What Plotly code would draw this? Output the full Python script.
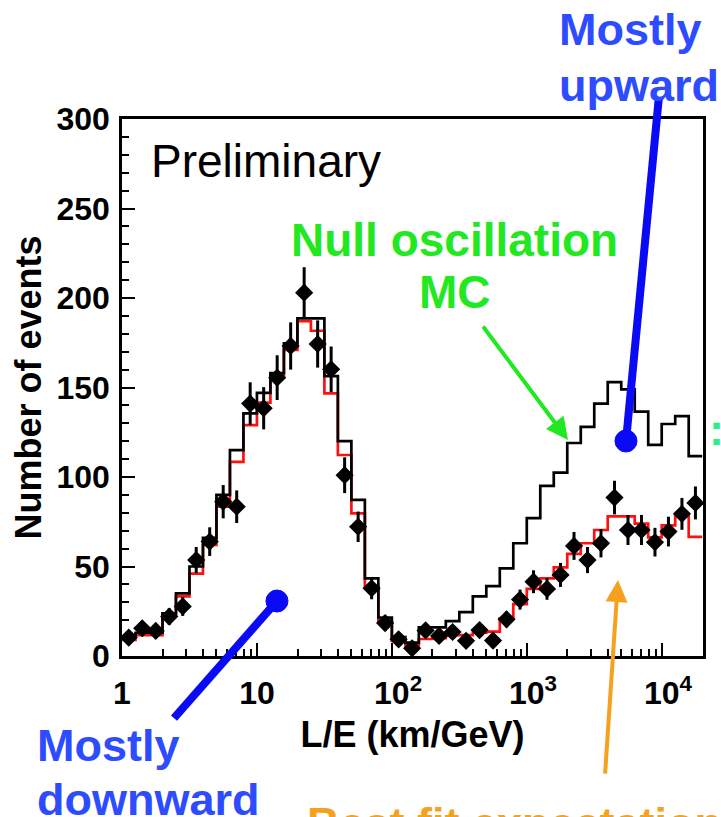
import numpy as np
import plotly.graph_objects as go

# ---- data (bins equally spaced in log10(L/E), width 0.1, from 10^0 to 10^4.3) ----
log_edges = [round(0.1 * i, 1) for i in range(44)]

null_mc = [10.8, 13, 13, 23.8, 35, 50, 66, 90, 115, 135.6,
           147, 158, 174.7, 188.6, 188.6, 156.4, 120, 87.2, 43.4, 21.5,
           10.5, 7.5, 16, 16, 19.5, 24.5, 33.3, 39, 49, 63,
           77, 95, 102.4, 119, 128, 141, 153, 149, 136.5, 118,
           129.6, 134, 111.7]

best_fit = [9, 11.7, 11.7, 23, 33.3, 46, 62, 83.4, 108.5, 129,
            141.5, 156, 171, 187, 181.7, 146.7, 112.3, 79.7, 38.7, 19.2,
            8.5, 6, 9.5, 10, 11.7, 11.7, 13, 13.6, 21, 29,
            37.5, 43.4, 49.5, 57, 63, 70.4, 78, 78, 74, 66.3,
            73, 78, 66.6]

data_counts = [10.3, 15.5, 14, 22, 27.7, 53.6, 63.9, 86.2, 83.4, 141,
               138.4, 155.5, 173.2, 203, 174.3, 160.2, 101, 72.2, 37.8, 18.4,
               9.3, 4.3, 14.3, 11.2, 13.4, 8.5, 14.5, 8.6, 20.5, 31.5,
               41.5, 37.5, 45.3, 61.5, 53.6, 63, 88.5, 70.4, 70.4, 63.6,
               69.5, 79.4, 85.5]

data_err = [3.2, 3.9, 3.7, 4.7, 5.3, 7.3, 8.0, 9.3, 9.1, 11.9,
            11.8, 12.5, 13.2, 14.2, 13.2, 12.7, 10.0, 8.5, 6.1, 4.3,
            3.0, 2.1, 3.8, 3.3, 3.7, 2.9, 3.8, 2.9, 4.5, 5.6,
            6.4, 6.1, 6.7, 7.8, 7.3, 7.9, 9.4, 8.4, 8.4, 8.0,
            8.3, 8.9, 9.2]

tick_vals = [1, 10, 100, 1000, 10000]
tick_text = ["1", "10",
             "<span style='color:rgba(0,0,0,0)'><sup>2</sup></span>10<sup>2</sup>",
             "<span style='color:rgba(0,0,0,0)'><sup>3</sup></span>10<sup>3</sup>",
             "<span style='color:rgba(0,0,0,0)'><sup>4</sup></span>10<sup>4</sup>"]

edges = [10 ** e for e in log_edges]
centers = [10 ** ((log_edges[i] + log_edges[i + 1]) / 2) for i in range(len(log_edges) - 1)]

FONT = "Liberation Sans, Arial, Helvetica, sans-serif"

fig = go.Figure()
fig.add_trace(go.Scatter(x=edges, y=best_fit + [best_fit[-1]], mode="lines",
                         line=dict(color="#ff1010", width=2.7, shape="hv"),
                         showlegend=False, hoverinfo="skip"))
fig.add_trace(go.Scatter(x=edges, y=null_mc + [null_mc[-1]], mode="lines",
                         line=dict(color="black", width=2.7, shape="hv"),
                         showlegend=False, hoverinfo="skip"))
fig.add_trace(go.Scatter(x=centers, y=data_counts, mode="markers",
                         marker=dict(symbol="diamond", size=14, color="black"),
                         error_y=dict(type="data", array=data_err, visible=True,
                                      thickness=3, width=0, color="black"),
                         showlegend=False))

BLUE_T = "#2d4cff"
BLUE_L = "#0a0af5"
GREEN = "#22e822"
ORANGE = "#f5a11d"

ann = []
def txt(text, x, y, color, size, bold=True, xanchor="left", yanchor="middle"):
    ann.append(dict(text=("<b>%s</b>" % text) if bold else text, x=x, y=y,
                    xref="paper", yref="paper", showarrow=False,
                    xanchor=xanchor, yanchor=yanchor,
                    font=dict(family=FONT, size=size, color=color)))

txt("Preliminary", 0.047, 0.922, "black", 46, bold=False)
txt("Null oscillation", 0.573, 0.775, GREEN, 46, xanchor="center")
txt("MC", 0.573, 0.678, GREEN, 46, xanchor="center")
txt("Mostly", 0.7487, 1.166, BLUE_T, 45)
txt("upward", 0.7487, 1.063, BLUE_T, 45)
txt("Mostly", -0.1497, -0.166, BLUE_T, 45)
txt("downward", -0.1497, -0.268, BLUE_T, 45)
txt("Best fit expectation", 0.315, -0.312, ORANGE, 45)
txt(":", 1.0224, 0.421, "#2eec8c", 45, xanchor="center")

# arrows
ann.append(dict(text="", x=0.7676, y=0.4022, xref="paper", yref="paper",
                showarrow=True, ax=-86, ay=-115, arrowcolor=GREEN,
                arrowwidth=4, arrowhead=2, arrowsize=1.1))
ann.append(dict(text="", x=0.8537, y=0.1415, xref="paper", yref="paper",
                showarrow=True, ax=-13, ay=195, arrowcolor=ORANGE,
                arrowwidth=4, arrowhead=2, arrowsize=1.1))

shapes = [
    dict(type="line", xref="paper", yref="paper", x0=0.924, y0=1.04, x1=0.8675, y1=0.4004,
         line=dict(color=BLUE_L, width=8)),
    dict(type="circle", xref="paper", yref="paper", x0=0.8485, x1=0.8864, y0=0.3799, y1=0.4209,
         fillcolor=BLUE_L, line=dict(color=BLUE_L, width=1)),
    dict(type="line", xref="paper", yref="paper", x0=0.2668, y0=0.1024, x1=0.0895, y1=-0.1155,
         line=dict(color=BLUE_L, width=8)),
    dict(type="circle", xref="paper", yref="paper", x0=0.2478, x1=0.2857, y0=0.0819, y1=0.1229,
         fillcolor=BLUE_L, line=dict(color=BLUE_L, width=1)),
]

fig.update_layout(
    width=721, height=817,
    margin=dict(l=122, r=18, t=119, b=161),
    paper_bgcolor="white", plot_bgcolor="white",
    annotations=ann, shapes=shapes,
    font=dict(family=FONT, color="black"),
)
fig.update_xaxes(type="log", range=[0, 4.306], showgrid=False, zeroline=False,
                 showline=True, linecolor="black", linewidth=2.5, mirror=True,
                 tickmode="array", tickvals=tick_vals, ticktext=tick_text,
                 ticks="inside", ticklen=13, tickwidth=2, tickcolor="black",
                 tickfont=dict(family=FONT, size=32, color="black", weight="bold"),
                 ticklabelstandoff=7,
                 minor=dict(ticks="inside", ticklen=7, tickwidth=2, tickcolor="black",
                            dtick="D1", showgrid=False),
                 title=dict(text="<b>L/E (km/GeV)</b>", standoff=12,
                            font=dict(family=FONT, size=36, color="black")))
fig.update_yaxes(range=[0, 300], showgrid=False, zeroline=False,
                 showline=True, linecolor="black", linewidth=2.5, mirror=True,
                 tickmode="linear", tick0=0, dtick=50,
                 ticks="inside", ticklen=13, tickwidth=2, tickcolor="black",
                 tickfont=dict(family=FONT, size=32, color="black", weight="bold"),
                 ticklabelstandoff=3,
                 minor=dict(ticks="inside", ticklen=7, tickwidth=2, tickcolor="black",
                            dtick=10, showgrid=False),
                 title=dict(text="<b>Number of events</b>", standoff=4,
                            font=dict(family=FONT, size=36, color="black")))

fig.write_html("out.html")
